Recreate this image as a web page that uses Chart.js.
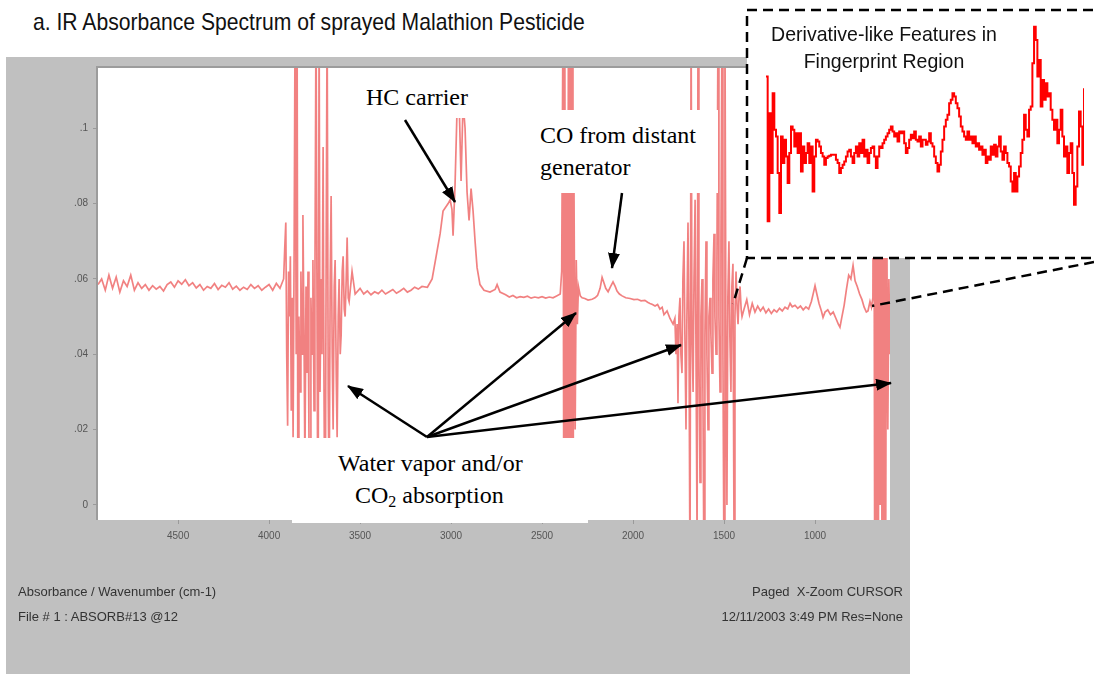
<!DOCTYPE html>
<html><head><meta charset="utf-8">
<script src="https://cdn.jsdelivr.net/npm/chart.js@4.4.0/dist/chart.umd.min.js"></script>
<style>
html,body{margin:0;padding:0;background:#fff;}
body{width:1094px;height:674px;position:relative;overflow:hidden;font-family:"Liberation Sans",Arial,sans-serif;}
#panel{position:absolute;left:6px;top:57px;width:904px;height:617px;background:#c0c0c0;}
#main{position:absolute;left:6px;top:57px;}
.box{position:absolute;background:#fff;}
.serif{position:absolute;font-family:"Liberation Serif","Times New Roman",serif;font-size:24px;color:#000;white-space:nowrap;line-height:1;}
.narrow{position:absolute;white-space:nowrap;color:#111;line-height:1;}
.foot{position:absolute;white-space:nowrap;color:#333;font-size:13px;line-height:1;}
#insetbox{position:absolute;left:0;top:0;}
#inset{position:absolute;left:766px;top:0px;}
#overlay{position:absolute;left:0;top:0;pointer-events:none;}
</style></head>
<body>
<div class="narrow" id="title" style="left:33px;top:10px;font-size:24px;transform:scaleX(0.88);transform-origin:0 0;">a. IR Absorbance Spectrum of sprayed Malathion Pesticide</div>
<div id="panel"></div>
<canvas id="main" width="904" height="617"></canvas>
<div class="box" style="left:345px;top:68px;width:160px;height:50px;"></div>
<div class="box" style="left:525px;top:110px;width:193px;height:83px;"></div>
<div class="box" style="left:292px;top:438px;width:296px;height:85px;"></div>
<div class="serif" style="left:366px;top:85px;">HC carrier</div>
<div class="serif" style="left:540px;top:123px;">CO from distant</div>
<div class="serif" style="left:540px;top:155px;">generator</div>
<div class="serif" style="left:338px;top:451px;">Water vapor and/or</div>
<div class="serif" style="left:355px;top:483px;">CO<sub style="font-size:16px;vertical-align:-4px;">2</sub> absorption</div>
<div class="foot" style="left:18px;top:585px;">Absorbance / Wavenumber (cm-1)</div>
<div class="foot" style="left:18px;top:610px;">File # 1 : ABSORB#13 @12</div>
<div class="foot" style="right:191px;top:585px;">Paged&nbsp; X-Zoom CURSOR</div>
<div class="foot" style="right:191px;top:610px;">12/11/2003 3:49 PM Res=None</div>
<svg id="insetbox" width="1094" height="674">
<rect x="747" y="10" width="360" height="248" fill="#fff" stroke="#000" stroke-width="2.5" stroke-dasharray="10,6"/>
</svg>
<canvas id="inset" width="318" height="233"></canvas>
<div class="narrow" style="left:684px;width:400px;text-align:center;top:23px;font-size:21px;transform:scaleX(0.93);transform-origin:200px 0;">Derivative-like Features in</div>
<div class="narrow" style="left:684px;width:400px;text-align:center;top:50px;font-size:21px;transform:scaleX(0.93);transform-origin:200px 0;">Fingerprint Region</div>
<svg id="overlay" width="1094" height="674">
<defs><marker id="ah" markerUnits="userSpaceOnUse" markerWidth="16" markerHeight="12" refX="15" refY="6" orient="auto"><path d="M0,0 L16,6 L0,12 z" fill="#000"/></marker></defs>
<g stroke="#000" stroke-width="2.5" fill="none">
<line x1="405" y1="120" x2="455" y2="202" marker-end="url(#ah)"/>
<line x1="622" y1="193" x2="612" y2="268" marker-end="url(#ah)"/>
<line x1="427" y1="437" x2="348" y2="386" marker-end="url(#ah)"/>
<line x1="427" y1="437" x2="576" y2="313" marker-end="url(#ah)"/>
<line x1="427" y1="437" x2="681" y2="345" marker-end="url(#ah)"/>
<line x1="427" y1="437" x2="891" y2="383" marker-end="url(#ah)"/>
</g>
<g stroke="#000" stroke-width="2.5" stroke-dasharray="10,6" fill="none">
<line x1="747" y1="258" x2="733" y2="304"/>
<line x1="1094" y1="262" x2="872" y2="306"/>
</g>
</svg>
<script>
const wavenumbers = [
 4940,4920,4900,4880,4860,4840,4820,4800,4780,4760,
 4740,4720,4700,4680,4660,4640,4620,4600,4580,4560,
 4540,4520,4500,4480,4460,4440,4420,4400,4380,4360,
 4340,4320,4300,4280,4260,4240,4220,4200,4180,4160,
 4140,4120,4100,4080,4060,4040,4020,4000,3980,3960,
 3940,
 3920,3914,3908,3903,3898,3893,3888,3883,3878,3873,
 3868,3862,3857,3851,3846,3841,3836,3830,3825,3819,
 3814,3808,3803,3797,3792,3786,3781,3775,3770,3764,
 3759,3753,3748,3742,3736,3731,3725,3720,3714,3709,
 3703,3698,3692,3686,3681,3675,3670,3664,3659,3653,
 3648,3642,3637,3631,3626,3620,3615,3609,3604,3598,
 3593,3587,3582,3576,3571,3565,3560,3544,3527,
 3500,3480,3460,3440,3420,3400,3380,3360,3340,3320,
 3300,3280,3260,3240,3220,3200,3180,3160,
 3130,3104,3082,3060,3044,3016,3005,2995,2989,2978,
 2967,2956,2945,2934,2923,2912,2901,2890,2879,2868,
 2857,2841,2819,2786,2758,2747,2731,
 2700,2680,2660,2640,2620,2600,2580,2560,2540,2520,
 2500,2480,2460,2440,2420,2400,
 2392,2385,2380,2375,2370,2365,2360,2355,2350,2345,
 2340,2335,2330,2325,2318,2312,2306,2300,2290,
 2280,2265,2247,2225,2209,2195,2181,2170,2160,2150,
 2137,2125,2110,2098,2088,2075,2060,2040,2016,1995,
 1975,1956,1935,1920,1907,1893,1879,1865,1852,1840,
 1830,1813,1797,1780,1770,
 1764,1758,1753,1748,1742,1737,1731,1726,1720,1715,
 1709,1704,1698,1692,1687,1681,1676,1670,1665,1659,
 1654,1648,1643,1638,1632,1627,1621,1616,1610,1605,
 1599,1594,1588,1583,1577,1572,1566,1561,1555,1550,
 1544,1539,1533,1528,1522,1517,1511,1506,1500,1495,
 1490,1484,1479,1473,1468,1462,1457,1451,1445,1440,
 1434,1428,1423,1417,1412,1406,1401,
 1390,1375,1360,1345,1330,1315,1300,1285,1270,1255,
 1240,1225,1210,1195,1180,1165,1150,1137,1125,1110,
 1095,1080,1065,1050,1035,1020,1008,1000,990,978,
 965,956,945,930,915,900,885,872,863,852,
 840,828,815,803,791,780,768,755,742,730,
 718,709,698,690,
 682,677,672,667,662,657,652,647,642,637,
 632,627,622,617,612,607,600,594,588
];
const absorbance = [
 0.0585,0.0600,0.0570,0.0610,0.0575,0.0605,0.0565,0.0595,0.0580,0.0610,
 0.0570,0.0590,0.0575,0.0585,0.0570,0.0582,0.0573,0.0580,0.0568,0.0585,
 0.0592,0.0578,0.0595,0.0586,0.0598,0.0582,0.0590,0.0576,0.0585,0.0570,
 0.0580,0.0575,0.0588,0.0572,0.0583,0.0578,0.0590,0.0573,0.0581,0.0570,
 0.0578,0.0572,0.0585,0.0575,0.0582,0.0570,0.0578,0.0585,0.0570,0.0588,
 0.0575,
 0.060,0.068,0.075,0.040,0.021,0.062,0.050,0.066,0.025,0.055,
 0.018,0.070,0.13,0.040,0.13,-0.02,0.050,0.030,0.062,0.040,
 0.077,0.045,0.010,0.058,0.035,0.062,0.020,-0.02,0.055,0.040,
 0.065,0.025,0.060,0.13,0.045,-0.02,0.13,0.030,0.060,0.040,
 0.095,0.030,-0.02,0.070,0.13,0.030,0.000,0.060,0.082,0.040,
 0.020,0.058,0.065,0.035,0.018,0.050,0.060,0.040,0.045,0.062,
 0.066,0.052,0.050,0.060,0.071,0.055,0.054,0.062,0.056,
 0.0575,0.0560,0.0568,0.0558,0.0566,0.0561,0.0570,0.0560,0.0566,0.0572,
 0.0562,0.0568,0.0575,0.0565,0.0570,0.0578,0.0573,0.0580,
 0.0578,0.0600,0.0660,0.0720,0.0780,0.0800,0.0810,0.0785,0.0715,0.0850,
 0.1050,0.1080,0.0860,0.1070,0.1000,0.0830,0.0755,0.0840,0.0780,0.0700,
 0.0630,0.0585,0.0570,0.0565,0.0572,0.0585,0.0565,
 0.0558,0.0552,0.0556,0.0550,0.0553,0.0551,0.0554,0.0549,0.0552,0.0550,
 0.0553,0.0549,0.0552,0.0550,0.0555,0.0560,
 0.062,0.13,-0.02,0.13,-0.02,0.10,-0.02,0.13,-0.02,0.13,
 -0.02,0.13,-0.02,0.09,0.02,0.065,0.048,0.058,0.0555,
 0.0550,0.0548,0.0544,0.0546,0.0550,0.0556,0.0575,0.0604,0.0590,0.0575,
 0.0566,0.0578,0.0592,0.0580,0.0568,0.0560,0.0555,0.0550,0.0548,0.0545,
 0.0546,0.0542,0.0543,0.0538,0.0535,0.0532,0.0528,0.0532,0.0520,0.0525,
 0.0505,0.0515,0.0495,0.0480,0.0495,
 0.040,0.048,0.027,0.050,0.055,0.040,0.035,0.060,0.070,0.045,
 0.020,0.050,0.075,0.040,-0.02,0.13,0.045,0.030,0.060,0.081,
 0.040,-0.01,0.13,0.040,0.006,0.050,0.060,0.030,-0.02,0.045,
 0.070,0.040,0.020,0.050,0.055,0.045,0.035,0.060,0.072,0.050,
 0.040,0.065,0.13,0.050,0.030,0.070,0.13,0.040,-0.02,0.13,
 0.050,0.000,0.055,0.070,0.045,0.030,0.058,0.064,-0.01,0.050,
 0.062,0.052,0.048,0.056,0.058,0.052,0.050,
 0.0520,0.0545,0.0505,0.0535,0.0512,0.0528,0.0515,0.0525,0.0510,0.0520,
 0.0508,0.0518,0.0512,0.0522,0.0515,0.0525,0.0520,0.0535,0.0526,0.0530,
 0.0522,0.0528,0.0518,0.0526,0.0520,0.0540,0.0565,0.0582,0.0560,0.0535,
 0.0515,0.0498,0.0512,0.0518,0.0505,0.0512,0.0495,0.0480,0.0472,0.0500,
 0.0530,0.0570,0.0610,0.0600,0.0636,0.0595,0.0580,0.0560,0.0545,0.0525,
 0.0512,0.0515,0.0540,0.0525,
 0.055,0.13,-0.02,0.13,-0.02,0.12,-0.02,0.13,0.000,0.13,
 -0.02,0.11,-0.02,0.13,-0.02,0.09,0.020,0.060,0.040
];
const xTickValues = [4500,4000,3500,3000,2500,2000,1500,1000];
const xTickLabels = ['4500','4000','3500','3000','2500','2000','1500','1000'];
const yTickValues = [0,0.02,0.04,0.06,0.08,0.1];
const yTickLabels = ['0','.02','.04','.06','.08','.1'];
const insetValues = [
 47,3.5,36,18,42,31,29,18,6,29,
 21,28,23,15,24,32,31,26,30,24,
 30,18.5,26,21,24,27,21,26,12.5,23,
 28,27.5,26,24,23,20.5,22.5,23,23.2,23.5,
 23.5,23.5,22,21,18,19.5,20.5,21.5,23,24.5,
 25,23,21,24,26,23,27,24,28,23,
 25,21,24,25.5,26,23,19.5,23,26,25.5,
 27,28,29,30,31,32,30.5,29,30,27.5,
 30.5,30,30.5,27,24,25.5,28,29.5,28.5,30.5,
 28,27.5,29,26,28,28,26.5,27.5,30,27,
 26,23,21,18.5,20.5,24.5,28,32,34,35.5,
 39,40,42,41,39,37.5,35,32,30.5,29,
 28,30.5,28,29,27,29,26,27,25,26,
 23.5,25,21,23,22,26,23.5,26.5,23,26,
 29,24.5,22,26,24,21,20,15.5,12.5,18,
 12.5,17,20,24,28,35.5,31,29,37,38,
 51,62,58,47,52,38,46,40,45,41,
 42,37,34,31,34,27,31,37,29,23,
 26,18,24,27,18,8.5,14,26,36.5,32,
 20.5,43.5
];

const bgPlugin = {
  id: 'plotbg',
  beforeDraw(c) {
    const a = c.chartArea, ctx = c.ctx;
    ctx.save();
    ctx.fillStyle = '#ffffff';
    ctx.fillRect(a.left, a.top, a.right - a.left, a.bottom - a.top);
    ctx.fillStyle = '#9c9c9c';
    ctx.fillRect(a.left - 2, a.top - 2, a.right - a.left + 2, 2);
    ctx.fillRect(a.left - 2, a.top - 2, 2, a.bottom - a.top + 2);
    ctx.restore();
  }
};

new Chart(document.getElementById('main'), {
  type: 'line',
  data: {
    datasets: [{
      data: wavenumbers.map((w, i) => ({x: w, y: absorbance[i]})),
      borderColor: 'rgba(235,70,70,0.68)',
      borderWidth: 1.7,
      pointRadius: 0,
      tension: 0,
      fill: false
    }]
  },
  options: {
    responsive: false,
    animation: false,
    devicePixelRatio: 1,
    layout: {padding: {left: 0, top: 10, right: 20, bottom: 0}},
    plugins: {legend: {display: false}, tooltip: {enabled: false}, title: {display: false}},
    scales: {
      x: {
        type: 'linear', reverse: true, min: 588, max: 4940,
        afterFit(s) { s.height = 154; },
        afterBuildTicks(s) { s.ticks = xTickValues.map(v => ({value: v})); },
        ticks: {callback: (v, i) => xTickLabels[i], font: {family: 'Liberation Sans', size: 10}, color: '#555', padding: 6, maxRotation: 0, autoSkip: false},
        grid: {display: true, drawOnChartArea: false, drawTicks: true, tickLength: 4, color: '#9a9a9a'},
        border: {display: false}
      },
      y: {
        type: 'linear', min: -0.004, max: 0.116,
        afterFit(s) { s.width = 92; },
        afterBuildTicks(s) { s.ticks = yTickValues.map(v => ({value: v})); },
        ticks: {callback: (v, i) => yTickLabels[i], font: {family: 'Liberation Sans', size: 10}, color: '#555', padding: 5},
        grid: {display: true, drawOnChartArea: false, drawTicks: true, tickLength: 5, color: '#9a9a9a'},
        border: {display: false}
      }
    }
  },
  plugins: [bgPlugin]
});

new Chart(document.getElementById('inset'), {
  type: 'line',
  data: {
    labels: insetValues.map((_, i) => i),
    datasets: [{
      data: insetValues,
      borderColor: '#ff0000',
      borderWidth: 2,
      pointRadius: 0,
      stepped: true,
      clip: false
    }]
  },
  options: {
    responsive: false,
    animation: false,
    devicePixelRatio: 1,
    layout: {padding: 0},
    plugins: {legend: {display: false}, tooltip: {enabled: false}},
    scales: {
      x: {display: false, offset: false},
      y: {display: false, min: 0, max: 70}
    }
  }
});
</script>
</body></html>
